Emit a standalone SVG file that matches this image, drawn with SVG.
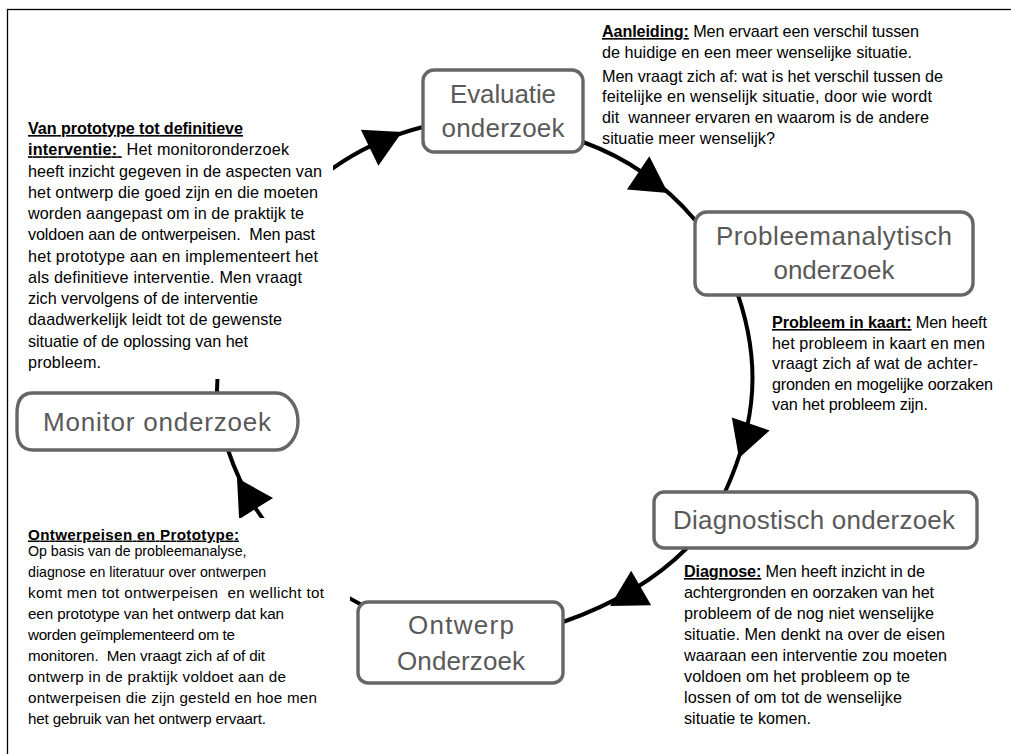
<svg xmlns="http://www.w3.org/2000/svg" width="1011" height="754" viewBox="0 0 1011 754">
<defs>
<style>
.frame{fill:none;stroke:#000;stroke-width:1.3}
.node{fill:#fff;stroke:#666;stroke-width:3.4}
.lbl{font-family:"Liberation Sans",Arial,sans-serif;font-size:26px;fill:#595959;text-anchor:middle}
.conn{fill:none;stroke:#000;stroke-width:4}
.ah{fill:#000}
.note{font-family:"Liberation Sans",Arial,sans-serif;font-size:16.2px;fill:#000}
.note2{font-family:"Liberation Sans",Arial,sans-serif;font-size:15.2px;fill:#000}
.sm{font-size:14.2px}
.b{font-weight:bold;text-decoration:underline}
.bg{fill:#fff}
</style>
<path id="ah" d="M0,0 L-36,-20 L-36,20 Z"/>
</defs>
<rect class="frame" x="7.5" y="9.5" width="1100" height="800"/>

<g id="connectors">
<path class="conn" d="M217,393 A272,272 0 0 1 423,127"/>
<use href="#ah" class="ah" transform="translate(402,132) rotate(-26)"/>
<path class="conn" d="M583,142 A266,266 0 0 1 695,220"/>
<use href="#ah" class="ah" transform="translate(668,193) rotate(34)"/>
<path class="conn" d="M738,295 C760,360 758,420 725,492"/>
<use href="#ah" class="ah" transform="translate(739,458) rotate(109)"/>
<path class="conn" d="M687,548 Q640,595 563,622"/>
<use href="#ah" class="ah" transform="translate(610,606) rotate(150)"/>
<path class="conn" d="M362,605 A269,269 0 0 1 228,450"/>
<use href="#ah" class="ah" transform="translate(237,478) rotate(-122)"/>
</g>

<g id="note-prototype">
<rect class="bg" x="15" y="112" width="318" height="267"/>
<text class="note" x="28" y="134" textLength="215"><tspan class="b">Van prototype tot definitieve</tspan></text>
<text class="note" x="28" y="155.25" textLength="261" xml:space="preserve"><tspan class="b">interventie: </tspan> Het monitoronderzoek</text>
<text class="note" x="28" y="176.5" textLength="294">heeft inzicht gegeven in de aspecten van</text>
<text class="note" x="28" y="197.75" textLength="290">het ontwerp die goed zijn en die moeten</text>
<text class="note" x="28" y="219" textLength="276">worden aangepast om in de praktijk te</text>
<text class="note" x="28" y="240.25" textLength="287" xml:space="preserve">voldoen aan de ontwerpeisen.  Men past</text>
<text class="note" x="28" y="261.5" textLength="290">het prototype aan en implementeert het</text>
<text class="note" x="28" y="282.75" textLength="274">als definitieve interventie. Men vraagt</text>
<text class="note" x="28" y="304" textLength="230">zich vervolgens of de interventie</text>
<text class="note" x="28" y="325.25" textLength="254">daadwerkelijk leidt tot de gewenste</text>
<text class="note" x="28" y="346.5" textLength="220">situatie of de oplossing van het</text>
<text class="note" x="28" y="367.75" textLength="73">probleem.</text>
</g>

<g id="note-aanleiding">
<text class="note" x="602" y="37" textLength="317" xml:space="preserve"><tspan class="b">Aanleiding:</tspan> Men ervaart een verschil tussen</text>
<text class="note" x="602" y="58" textLength="310">de huidige en een meer wenselijke situatie.</text>
<text class="note" x="602" y="81.5" textLength="341">Men vraagt zich af: wat is het verschil tussen de</text>
<text class="note" x="602" y="102" textLength="330">feitelijke en wenselijk situatie, door wie wordt</text>
<text class="note" x="602" y="123" textLength="327" xml:space="preserve">dit  wanneer ervaren en waarom is de andere</text>
<text class="note" x="602" y="144" textLength="173">situatie meer wenselijk?</text>
</g>

<g id="note-kaart">
<text class="note" x="772" y="328" textLength="215" xml:space="preserve"><tspan class="b">Probleem in kaart:</tspan> Men heeft</text>
<text class="note" x="772" y="348.5" textLength="213">het probleem in kaart en men</text>
<text class="note" x="772" y="369" textLength="206">vraagt zich af wat de achter-</text>
<text class="note" x="772" y="389.5" textLength="221">gronden en mogelijke oorzaken</text>
<text class="note" x="772" y="410" textLength="156">van het probleem zijn.</text>
</g>

<g id="note-diagnose">
<text class="note" x="684" y="577" textLength="241" xml:space="preserve"><tspan class="b">Diagnose:</tspan> Men heeft inzicht in de</text>
<text class="note" x="684" y="598" textLength="250">achtergronden en oorzaken van het</text>
<text class="note" x="684" y="619" textLength="250">probleem of de nog niet wenselijke</text>
<text class="note" x="684" y="640" textLength="261">situatie. Men denkt na over de eisen</text>
<text class="note" x="684" y="661" textLength="263">waaraan een interventie zou moeten</text>
<text class="note" x="684" y="682" textLength="226">voldoen om het probleem op te</text>
<text class="note" x="684" y="703" textLength="218">lossen of om tot de wenselijke</text>
<text class="note" x="684" y="724" textLength="127">situatie te komen.</text>
</g>

<g id="note-ontwerpeisen">
<rect class="bg" x="15" y="518" width="335" height="230"/>
<text class="note2" x="28" y="539.5" textLength="211"><tspan class="b">Ontwerpeisen en Prototype:</tspan></text>
<text class="note2 sm" x="28" y="556">Op basis van de probleemanalyse,</text>
<text class="note2 sm" x="28" y="577">diagnose en literatuur over ontwerpen</text>
<text class="note2" x="28" y="598" textLength="296" xml:space="preserve">komt men tot ontwerpeisen  en wellicht tot</text>
<text class="note2" x="28" y="619" textLength="256">een prototype van het ontwerp dat kan</text>
<text class="note2" x="28" y="640" textLength="207">worden geïmplementeerd om te</text>
<text class="note2" x="28" y="661" textLength="237" xml:space="preserve">monitoren.  Men vraagt zich af of dit</text>
<text class="note2" x="28" y="682" textLength="258">ontwerp in de praktijk voldoet aan de</text>
<text class="note2" x="28" y="703" textLength="289">ontwerpeisen die zijn gesteld en hoe men</text>
<text class="note2" x="28" y="724" textLength="238">het gebruik van het ontwerp ervaart.</text>
</g>

<g id="node-evaluatie">
<rect class="node" x="423" y="70" width="160" height="82" rx="11"/>
<text class="lbl" x="503" y="102.5" textLength="106">Evaluatie</text>
<text class="lbl" x="503" y="137" textLength="123">onderzoek</text>
</g>
<g id="node-probleemanalytisch">
<rect class="node" x="695" y="212" width="278" height="83" rx="12"/>
<text class="lbl" x="834" y="245" textLength="236">Probleemanalytisch</text>
<text class="lbl" x="834" y="279" textLength="121">onderzoek</text>
</g>
<g id="node-diagnostisch">
<rect class="node" x="654" y="492" width="323" height="56" rx="10"/>
<text class="lbl" x="814" y="529" textLength="282">Diagnostisch onderzoek</text>
</g>
<g id="node-ontwerp">
<rect class="node" x="358" y="602" width="205" height="81" rx="10"/>
<text class="lbl" x="461" y="634" textLength="106">Ontwerp</text>
<text class="lbl" x="461" y="670" textLength="128">Onderzoek</text>
</g>
<g id="node-monitor">
<path class="node" d="M33,393 H276 A22,28.5 0 0 1 276,450 H33 Q17,450 17,430 V413 Q17,393 33,393 Z"/>
<text class="lbl" x="157" y="431" textLength="228">Monitor onderzoek</text>
</g>
</svg>
